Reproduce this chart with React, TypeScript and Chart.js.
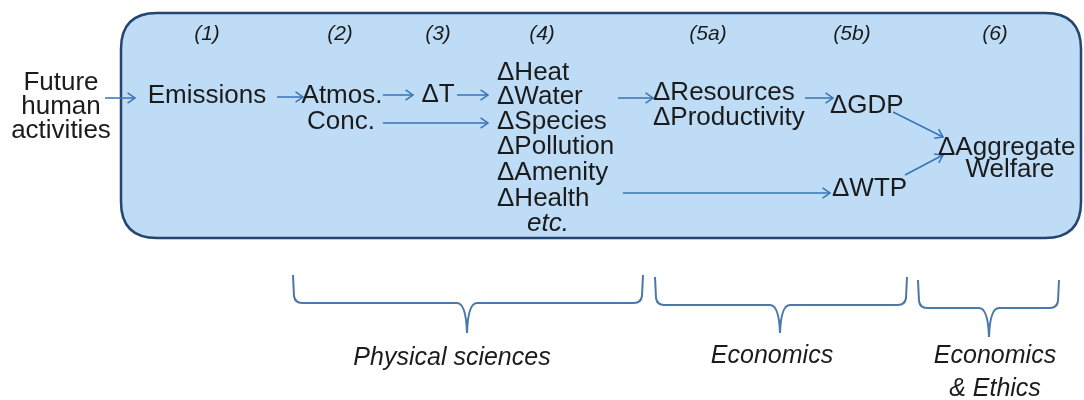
import React, { useEffect, useRef } from "react";
import { Chart, registerables } from "chart.js";

Chart.register(...registerables);

const FONT = '"Liberation Sans", Arial, Helvetica, sans-serif';

// Stage headers inside the box
const stageLabels = ["(1)", "(2)", "(3)", "(4)", "(5a)", "(5b)", "(6)"];
const stageX = [207, 340, 438, 542, 708, 852, 995];
const stageY = [34, 34, 34, 34, 34, 34, 34];

// Diagram node labels (x = anchor, y = vertical centre, in diagram units)
const nodeLabels = [
  "Future", "human", "activities",
  "Emissions",
  "Atmos.", "Conc.",
  "ΔT",
  "ΔHeat", "ΔWater", "ΔSpecies", "ΔPollution", "ΔAmenity", "ΔHealth", "etc.",
  "ΔResources", "ΔProductivity",
  "ΔGDP", "ΔWTP",
  "ΔAggregate", "Welfare",
];
const nodeX = [
  61, 61, 61,
  207,
  342, 341,
  438,
  497, 497, 497, 497, 497, 497, 548,
  653, 653,
  830, 832,
  938, 1010,
];
const nodeY = [
  83, 107, 131,
  96,
  96, 122,
  95,
  73, 97, 122, 147, 173, 199, 224,
  93, 118,
  106, 189,
  148, 170,
];
const nodeAnchor = [
  "center", "center", "center",
  "center",
  "center", "center",
  "center",
  "left", "left", "left", "left", "left", "left", "center",
  "left", "left",
  "left", "left",
  "left", "center",
];
const nodeItalic = [
  false, false, false, false, false, false, false,
  false, false, false, false, false, false, true,
  false, false, false, false, false, false,
];

// Arrows (start -> end)
const arrowX1 = [105, 277, 383, 457, 383, 618, 623, 805, 893, 905];
const arrowY1 = [98, 97, 95, 95, 123, 98, 193, 98, 112, 175];
const arrowX2 = [135, 303, 413, 488, 488, 653, 830, 833, 943, 943];
const arrowY2 = [98, 97, 95, 95, 123, 98, 193, 98, 137, 155];

// Braces beneath the box
const braceLeft = [293, 655, 918];
const braceRight = [643, 907, 1059];
const braceMid = [467, 780, 989];
const braceTop = [275, 277, 280];
const braceBar = [303, 305, 308];
const braceTip = [333, 333, 337];

// Discipline labels
const groupLabels = ["Physical sciences", "Economics", "Economics", "& Ethics"];
const groupX = [452, 772, 995, 995];
const groupY = [358, 356, 356, 389];

// Box extent
const boxLeft = 121;
const boxTop = 13;
const boxRight = 1081;
const boxBottom = 238;

const TEXT_COLOR = "#1b1b1b";
const ARROW_COLOR = "#3674b8";
const BRACE_COLOR = "#4a78ab";
const BOX_FILL = "#bedcf6";
const BOX_STROKE = "#24456f";

const diagramPlugin = {
  id: "diagram",
  beforeDatasetsDraw(chart: any) {
    const ctx = chart.ctx;
    const sx = (v: number) => chart.scales.x.getPixelForValue(v);
    const sy = (v: number) => chart.scales.y.getPixelForValue(v);
    const l = sx(boxLeft), t = sy(boxTop), r = sx(boxRight), b = sy(boxBottom);
    const rad = 36;
    ctx.save();
    ctx.beginPath();
    ctx.moveTo(l + rad, t);
    ctx.lineTo(r - rad, t);
    ctx.quadraticCurveTo(r, t, r, t + rad);
    ctx.lineTo(r, b - rad);
    ctx.quadraticCurveTo(r, b, r - rad, b);
    ctx.lineTo(l + rad, b);
    ctx.quadraticCurveTo(l, b, l, b - rad);
    ctx.lineTo(l, t + rad);
    ctx.quadraticCurveTo(l, t, l + rad, t);
    ctx.closePath();
    ctx.fillStyle = BOX_FILL;
    ctx.fill();
    ctx.lineWidth = 2.5;
    ctx.strokeStyle = BOX_STROKE;
    ctx.stroke();
    ctx.restore();
  },
  afterDatasetsDraw(chart: any) {
    const ctx = chart.ctx;
    const sx = (v: number) => chart.scales.x.getPixelForValue(v);
    const sy = (v: number) => chart.scales.y.getPixelForValue(v);
    ctx.save();

    // arrowheads
    ctx.strokeStyle = ARROW_COLOR;
    ctx.lineWidth = 1.5;
    for (let i = 0; i < arrowX1.length; i++) {
      const x1 = sx(arrowX1[i]), y1 = sy(arrowY1[i]);
      const x2 = sx(arrowX2[i]), y2 = sy(arrowY2[i]);
      const a = Math.atan2(y2 - y1, x2 - x1);
      const len = 9;
      const spread = 0.6;
      ctx.beginPath();
      ctx.moveTo(x2 - len * Math.cos(a - spread), y2 - len * Math.sin(a - spread));
      ctx.lineTo(x2, y2);
      ctx.lineTo(x2 - len * Math.cos(a + spread), y2 - len * Math.sin(a + spread));
      ctx.stroke();
    }

    // braces
    ctx.strokeStyle = BRACE_COLOR;
    ctx.lineWidth = 2;
    for (let i = 0; i < braceLeft.length; i++) {
      const L = sx(braceLeft[i]), R = sx(braceRight[i]), M = sx(braceMid[i]);
      const T = sy(braceTop[i]), B = sy(braceBar[i]), P = sy(braceTip[i]);
      ctx.beginPath();
      ctx.moveTo(L, T);
      ctx.lineTo(L + 1, B - 7);
      ctx.quadraticCurveTo(L + 2, B, L + 9, B);
      ctx.lineTo(M - 10, B);
      ctx.quadraticCurveTo(M - 1, B, M, P);
      ctx.moveTo(M, P);
      ctx.quadraticCurveTo(M + 1, B, M + 10, B);
      ctx.lineTo(R - 9, B);
      ctx.quadraticCurveTo(R - 2, B, R - 1, B - 7);
      ctx.lineTo(R, T);
      ctx.stroke();
    }

    // texts
    ctx.fillStyle = TEXT_COLOR;
    ctx.textBaseline = "middle";
    ctx.textAlign = "center";
    ctx.font = `italic 21px ${FONT}`;
    for (let i = 0; i < stageLabels.length; i++) {
      ctx.fillText(stageLabels[i], sx(stageX[i]), sy(stageY[i]));
    }
    for (let i = 0; i < nodeLabels.length; i++) {
      ctx.font = `${nodeItalic[i] ? "italic " : ""}26px ${FONT}`;
      ctx.textAlign = nodeAnchor[i] as CanvasTextAlign;
      ctx.fillText(nodeLabels[i], sx(nodeX[i]), sy(nodeY[i]));
    }
    ctx.textAlign = "center";
    ctx.font = `italic 25px ${FONT}`;
    for (let i = 0; i < groupLabels.length; i++) {
      ctx.fillText(groupLabels[i], sx(groupX[i]), sy(groupY[i]));
    }
    ctx.restore();
  },
};

export default function App() {
  const canvasRef = useRef<HTMLCanvasElement | null>(null);

  useEffect(() => {
    document.body.style.margin = "0";
    const canvas = canvasRef.current;
    if (!canvas) return;
    const datasets = arrowX1.map((_, i) => ({
      type: "line" as const,
      data: [
        { x: arrowX1[i], y: arrowY1[i] },
        { x: arrowX2[i], y: arrowY2[i] },
      ],
      showLine: true,
      borderColor: ARROW_COLOR,
      borderWidth: 1.5,
      pointRadius: 0,
      fill: false,
    }));
    const chart = new Chart(canvas, {
      type: "scatter",
      data: { datasets },
      options: {
        animation: false,
        responsive: true,
        maintainAspectRatio: false,
        events: [],
        layout: { padding: 0 },
        plugins: {
          legend: { display: false },
          tooltip: { enabled: false },
        },
        scales: {
          x: { type: "linear", min: 0, max: 1084, display: false },
          y: { type: "linear", min: 0, max: 400, reverse: true, display: false },
        },
      },
      plugins: [diagramPlugin],
    } as any);
    return () => chart.destroy();
  }, []);

  return (
    <div style={{ position: "relative", width: 1084, height: 400, background: "#ffffff" }}>
      <canvas ref={canvasRef} />
    </div>
  );
}
